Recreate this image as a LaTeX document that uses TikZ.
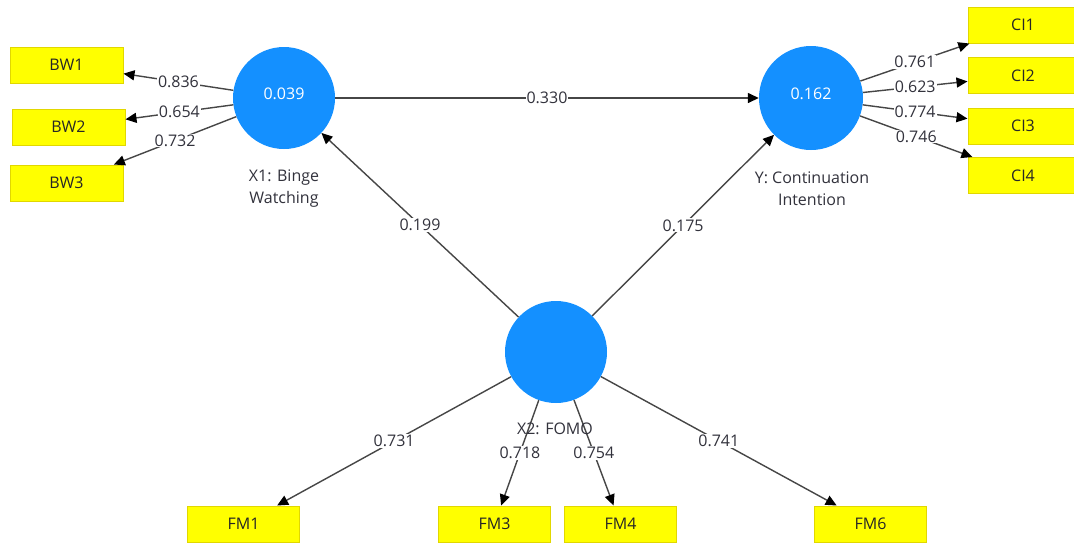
\documentclass[tikz,border=0pt]{standalone}
\usepackage{fontspec}
\setmainfont{Open Sans}
\usetikzlibrary{arrows.meta}
\definecolor{lvblue}{RGB}{20,144,255}
\definecolor{boxyellow}{RGB}{255,255,0}
\definecolor{boxedge}{RGB}{225,215,0}
\definecolor{linegray}{RGB}{70,70,70}
\definecolor{labelgray}{RGB}{50,50,60}
\begin{document}
\begin{tikzpicture}[x=1pt,y=-1pt,
  lv/.style={circle, fill=lvblue, minimum size=102pt, inner sep=0pt},
  lvval/.style={inner sep=0pt, text=white, font=\fontsize{16}{19}\selectfont},
  mv/.style={rectangle, fill=boxyellow, draw=boxedge, line width=1pt, minimum width=112pt, minimum height=36pt, inner sep=0pt, text=black!85, font=\fontsize{16}{19}\selectfont},
  conn/.style={draw=linegray, line width=1.4pt, -{Triangle[length=11pt,width=10pt,color=black]}},
  wt/.style={fill=white, inner sep=1pt, text=labelgray, font=\fontsize{16}{19}\selectfont},
  lvcaption/.style={align=center, text=labelgray, font=\fontsize{16}{22}\selectfont}]
\useasboundingbox (0,0) rectangle (1074,542);
\clip (0,0) rectangle (1074,542);
\fill[white] (0,0) rectangle (1074,542);

% latent variables
\node[lv] (X1) at (284,98) {};
\node[lv, minimum size=104pt] (Y) at (811,98) {};
\node[lv] (X2) at (556,352) {};
\node[lvval] (vX1) at ([yshift=4pt]X1.center) {0.039};
\node[lvval] (vY) at ([yshift=4pt]Y.center) {0.162};

% indicators
\node[mv, minimum width=113pt] (BW1) at (66.5,65) {BW1};
\node[mv, minimum width=113pt] (BW2) at (68.5,127) {BW2};
\node[mv, minimum width=113pt] (BW3) at (66.5,183) {BW3};
\node[mv, minimum width=110pt] (CI1) at (1023,25) {CI1};
\node[mv, minimum width=110pt] (CI2) at (1023,75.5) {CI2};
\node[mv, minimum width=110pt] (CI3) at (1023,126) {CI3};
\node[mv, minimum width=110pt] (CI4) at (1023,175.5) {CI4};
\node[mv] (FM1) at (243.5,524) {FM1};
\node[mv] (FM3) at (494.5,524) {FM3};
\node[mv] (FM4) at (620.5,524) {FM4};
\node[mv] (FM6) at (870.5,524) {FM6};

% captions
\node[lvcaption] (capX1) at (284,189) {X1: Binge\\Watching};
\node[lvcaption] (capY) at (812,189) {Y: Continuation\\Intention};

% structural paths
\draw[conn] (X1) -- node[wt] (p1) {0.330} (Y);
\draw[conn] (X2) -- node[wt] (p2) {0.199} (X1);
\draw[conn] (X2) -- node[wt] (p3) {0.175} (Y);

% outer loadings
\draw[conn] (X1) -- node[wt] (l1) {0.836} (BW1);
\draw[conn] (X1) -- node[wt] (l2) {0.654} (BW2);
\draw[conn] (X1) -- node[wt] (l3) {0.732} (BW3);
\draw[conn] (Y) -- node[wt] (l4) {0.761} (CI1);
\draw[conn] (Y) -- node[wt] (l5) {0.623} (CI2);
\draw[conn] (Y) -- node[wt] (l6) {0.774} (CI3);
\draw[conn] (Y) -- node[wt] (l7) {0.746} (CI4);
\draw[conn] (X2) -- node[wt] (l8) {0.731} (FM1);
\draw[conn] (X2) -- node[wt] (l9) {0.718} (FM3);
\draw[conn] (X2) -- node[wt] (l10) {0.754} (FM4);
\draw[conn] (X2) -- node[wt] (l11) {0.741} (FM6);

\node[lvcaption] (capX2) at (555,429) {X2: FOMO};
\end{tikzpicture}
\end{document}
